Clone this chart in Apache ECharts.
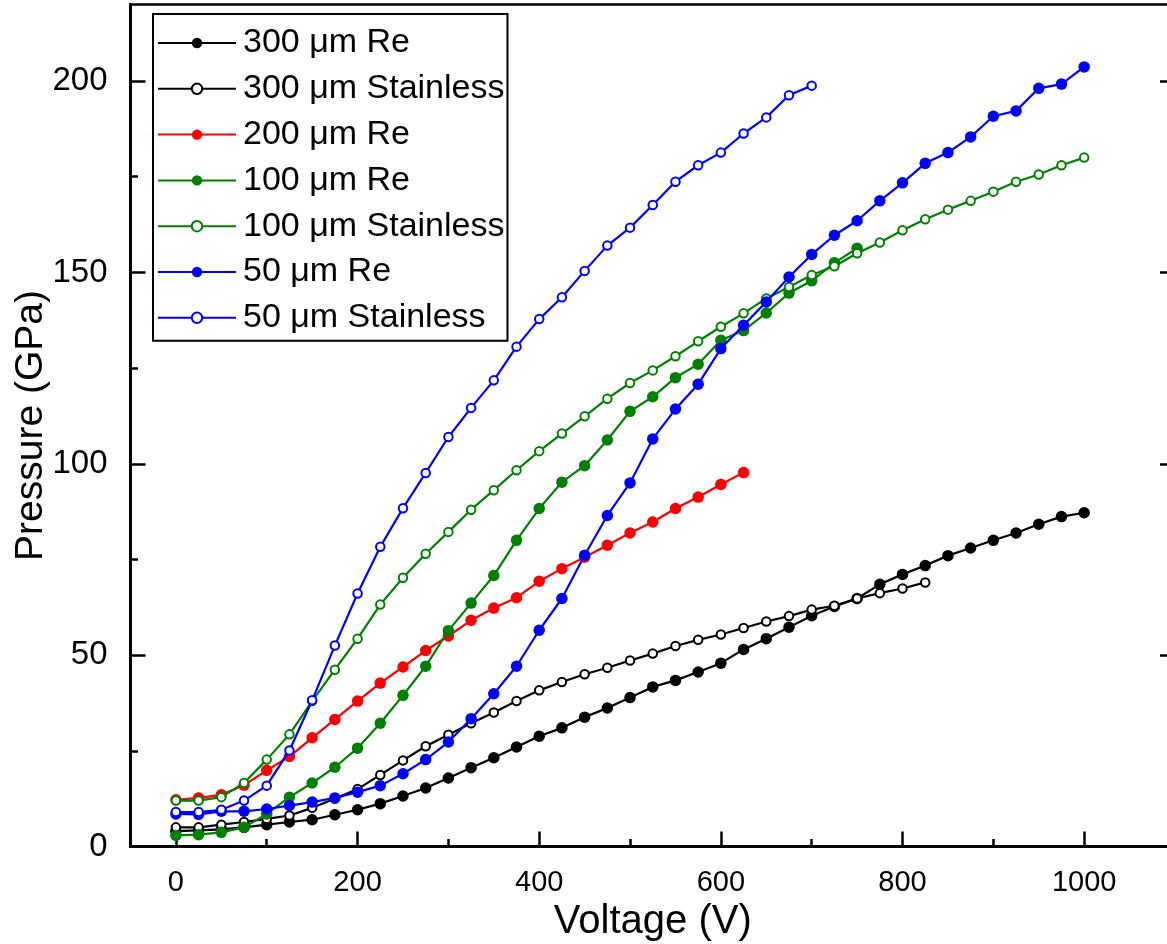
<!DOCTYPE html>
<html>
<head>
<meta charset="utf-8">
<script src="https://cdn.jsdelivr.net/npm/echarts@6/dist/echarts.min.js"></script>
<style>
html,body{margin:0;padding:0;background:#fff;}
#chart{width:1167px;height:944px;}
</style>
</head>
<body>
<div id="chart"></div>
<script>
// Voltage steps (V)
const voltages = [0,25,50,75,100,125,150,175,200,225,250,275,300,325,350,375,400,425,450,475,500,
  525,550,575,600,625,650,675,700,725,750,775,800,825,850,875,900,925,950,975,1000];

// Pressure (GPa)
const re300 = [4.0,4.2,4.5,5.0,5.7,6.4,7.0,8.3,9.6,11.2,13.2,15.3,17.9,20.6,23.2,26.0,28.8,31.0,33.8,36.2,38.9,
  41.7,43.4,45.6,47.9,51.5,54.3,57.3,60.3,62.7,64.8,68.5,71.1,73.4,76.0,78.0,80.0,81.9,84.2,86.2,87.2];
const ss300 = [5.0,5.0,5.7,6.4,7.2,8.1,10.1,12.5,15.0,18.7,22.5,26.2,29.2,32.2,35.0,38.0,40.8,43.0,45.0,46.7,48.6,
  50.4,52.4,54.0,55.4,57.1,58.8,60.2,61.9,62.9,64.8,66.2,67.4,69.0];
const re200 = [12.2,12.7,13.5,16.0,19.9,23.5,28.4,33.2,38.0,42.7,46.9,51.2,55.0,59.1,62.3,65.0,69.3,72.6,75.6,78.7,81.9,
  84.8,88.3,91.3,94.6,97.7];
const re100 = [2.9,3.1,3.7,5.0,8.5,12.9,16.6,20.7,25.7,32.2,39.5,47.1,56.4,63.6,70.8,80.0,88.3,95.2,99.5,106.2,113.7,
  117.5,122.5,126.0,132.3,134.8,139.4,144.6,147.8,152.5,156.3];
const ss100 = [12.0,12.0,12.9,16.6,22.7,29.3,38.0,46.2,54.3,63.2,70.2,76.5,82.2,88.0,93.1,98.3,103.3,107.9,112.4,117.0,121.1,
  124.4,128.1,132.0,135.8,139.3,143.2,146.2,149.3,151.6,155.0,157.8,161.0,163.9,166.4,168.7,171.1,173.7,175.6,178.0,180.0];
const re50 = [8.5,8.4,9.2,9.2,9.8,10.7,11.6,12.7,14.2,15.9,19.0,22.7,27.3,33.4,39.9,47.1,56.5,64.8,76.1,86.5,95.0,
  106.5,114.3,120.8,130.1,136.2,142.3,148.8,154.7,159.7,163.5,168.7,173.4,178.5,181.3,185.4,190.8,192.2,198.1,199.2,203.7];
const ss50 = [9.0,9.0,9.6,12.0,15.9,25.1,38.2,52.5,66.1,78.3,88.4,97.6,107.0,114.6,121.8,130.6,137.8,143.5,150.4,157.0,161.7,
  167.6,173.7,178.0,181.3,186.3,190.5,196.3,198.8];

const seriesNames = ['300 μm Re','300 μm Stainless','200 μm Re','100 μm Re','100 μm Stainless','50 μm Re','50 μm Stainless'];
const seriesValues = [re300, ss300, re200, re100, ss100, re50, ss50];
const seriesColors = ['#000000','#000000','#ff0000','#008000','#008000','#0000ff','#0000ff'];
const seriesFilled = [true,false,true,true,false,true,false];

const xMajorTicks = [0,200,400,600,800,1000];
const xMinorTicks = [100,300,500,700,900];
const yMajorTicks = [0,50,100,150,200];
const yMinorTicks = [25,75,125,175];

const FONT = 'Liberation Sans, Arial, sans-serif';

const series = seriesNames.map((name, i) => ({
  name: name,
  type: 'line',
  data: seriesValues[i].map((v, j) => [voltages[j], v]),
  symbol: seriesFilled[i] ? 'circle' : 'emptyCircle',
  symbolSize: seriesFilled[i] ? 11.5 : 8.5,
  showAllSymbol: true,
  color: seriesColors[i],
  lineStyle: { color: seriesColors[i], width: 2.2 },
  itemStyle: seriesFilled[i] ? { color: seriesColors[i] } : { color: seriesColors[i], borderColor: seriesColors[i], borderWidth: 2.5 },
  emphasis: { disabled: true },
  z: 2 + i
}));

function tickAxis(base, extra) { return Object.assign({}, base, extra); }

const xBase = { type: 'value', min: -50, max: 1100, position: 'bottom', splitLine: { show: false } };
const yBase = { type: 'value', min: 0, max: 220, splitLine: { show: false } };
const plain = v => String(v);

const chart = echarts.init(document.getElementById('chart'), null, { renderer: 'canvas' });
chart.setOption({
  animation: false,
  backgroundColor: '#ffffff',
  grid: { left: 130.5, top: 4.5, width: 1044.5, height: 842, show: true, borderColor: '#000', borderWidth: 2.5, backgroundColor: 'transparent', containLabel: false, outerBoundsMode: 'none' },
  legend: {
    orient: 'vertical', left: 153, top: 14,
    itemWidth: 78, itemHeight: 13, itemGap: 11.8,
    padding: [12, 3, 6, 4],
    borderColor: '#000', borderWidth: 2, backgroundColor: '#fff',
    textStyle: { fontSize: 34, fontFamily: FONT, color: '#000', padding: [0, 0, 0, 2] },
    data: seriesNames
  },
  xAxis: [
    tickAxis(xBase, {
      name: 'Voltage (V)', nameLocation: 'middle', nameGap: 55, nameMoveOverlap: false,
      nameTextStyle: { fontSize: 40, fontFamily: FONT, color: '#000' },
      axisLine: { show: true, onZero: false, lineStyle: { color: '#000', width: 3 } },
      axisTick: { show: true, inside: true, length: 15, lineStyle: { color: '#000', width: 2.5 }, customValues: xMajorTicks },
      axisLabel: { show: true, margin: 22, fontSize: 29, fontFamily: FONT, color: '#000', customValues: xMajorTicks, formatter: plain }
    }),
    tickAxis(xBase, {
      axisLine: { show: false, onZero: false },
      axisTick: { show: true, inside: true, length: 7.5, lineStyle: { color: '#000', width: 2.5 }, customValues: xMinorTicks },
      axisLabel: { show: false }
    })
  ],
  yAxis: [
    tickAxis(yBase, {
      position: 'left',
      name: 'Pressure (GPa)', nameLocation: 'middle', nameGap: 80, nameMoveOverlap: false,
      nameTextStyle: { fontSize: 39, fontFamily: FONT, color: '#000' },
      axisLine: { show: true, onZero: false, lineStyle: { color: '#000', width: 3 } },
      axisTick: { show: true, inside: true, length: 15, lineStyle: { color: '#000', width: 2.5 }, customValues: yMajorTicks },
      axisLabel: { show: true, margin: 23, fontSize: 33, fontFamily: FONT, color: '#000', customValues: yMajorTicks, formatter: plain }
    }),
    tickAxis(yBase, {
      position: 'left',
      axisLine: { show: false, onZero: false },
      axisTick: { show: true, inside: true, length: 7.5, lineStyle: { color: '#000', width: 2.5 }, customValues: yMinorTicks },
      axisLabel: { show: false }
    }),
    tickAxis(yBase, {
      position: 'right',
      axisLine: { show: true, onZero: false, lineStyle: { color: '#000', width: 3 } },
      axisTick: { show: true, inside: true, length: 15, lineStyle: { color: '#000', width: 2.5 }, customValues: yMajorTicks },
      axisLabel: { show: false }
    }),
    tickAxis(yBase, {
      position: 'right',
      axisLine: { show: false, onZero: false },
      axisTick: { show: true, inside: true, length: 7.5, lineStyle: { color: '#000', width: 2.5 }, customValues: yMinorTicks },
      axisLabel: { show: false }
    })
  ],
  series: series
});
</script>
</body>
</html>
